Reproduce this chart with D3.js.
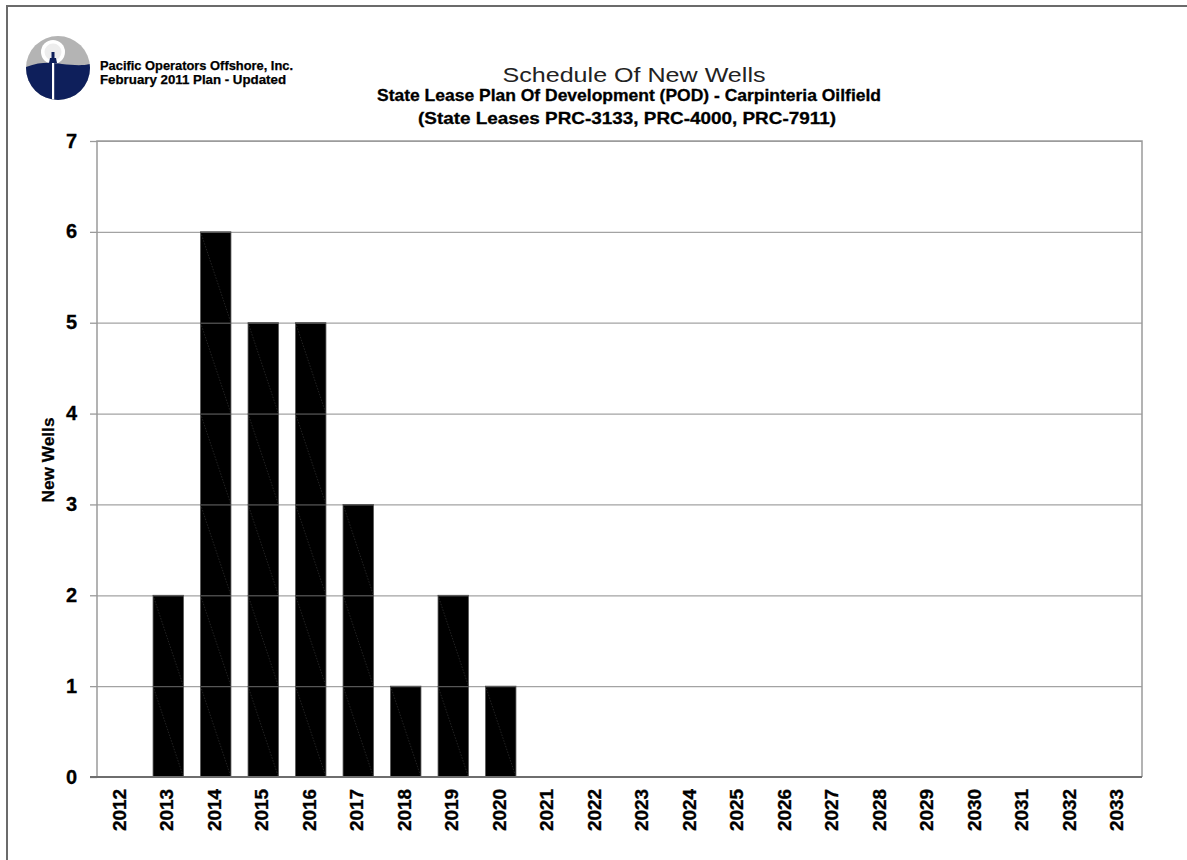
<!DOCTYPE html>
<html>
<head>
<meta charset="utf-8">
<script src="https://cdn.jsdelivr.net/npm/d3@7/dist/d3.min.js"></script>
<style>
  html, body { margin: 0; padding: 0; background: #fff; }
  svg { display: block; font-family: "Liberation Sans", Arial, sans-serif; }
</style>
</head>
<body>
<svg id="chart" width="1187" height="860"></svg>
<script>
// ---- data ----
const years = ["2012","2013","2014","2015","2016","2017","2018","2019","2020","2021","2022",
               "2023","2024","2025","2026","2027","2028","2029","2030","2031","2032","2033"];
const newWells = [0, 2, 6, 5, 5, 3, 1, 2, 1, 0, 0, 0, 0, 0, 0, 0, 0, 0, 0, 0, 0, 0];
const yTicks = [0, 1, 2, 3, 4, 5, 6, 7];
const titleText = "Schedule Of New Wells";
const subtitle1 = "State Lease Plan Of Development (POD) - Carpinteria Oilfield";
const subtitle2 = "(State Leases PRC-3133, PRC-4000, PRC-7911)";
const companyLines = ["Pacific Operators Offshore, Inc.", "February 2011 Plan - Updated"];
const yAxisTitle = "New Wells";

(function () {
const data = years.map((y, i) => ({ year: y, value: newWells[i] }));

const svg = d3.select("#chart");
const pL = 97, pR = 1142, pT = 141, pB = 777;

const x = d3.scaleBand().domain(years).range([pL, pR])
  .paddingInner(0.36).paddingOuter(0.18);
const y = d3.scaleLinear().domain([0, 7]).range([pB, pT]);

// outer frame
svg.append("rect").attr("x", 7).attr("y", 6).attr("width", 1200).attr("height", 900)
  .attr("fill", "none").attr("stroke", "#6b6b6b").attr("stroke-width", 2);

// logo
const logo = svg.append("g");
const cx = 58, cy = 68, r = 32;
logo.append("clipPath").attr("id", "logoClip")
  .append("circle").attr("cx", cx).attr("cy", cy).attr("r", r);
const lg = logo.append("g").attr("clip-path", "url(#logoClip)");
lg.append("rect").attr("x", cx - r).attr("y", cy - r).attr("width", 2 * r).attr("height", 2 * r).attr("fill", "#b4b4b4");
lg.append("circle").attr("cx", 53).attr("cy", 52).attr("r", 12).attr("fill", "#ffffff");
lg.append("circle").attr("cx", 53).attr("cy", 52).attr("r", 8.5).attr("fill", "#ededed");
lg.append("path")
  .attr("d", `M${cx - r},67 C${cx - 16},61 ${cx - 4},63 ${cx + 4},64 C${cx + 14},65 ${cx + 24},66 ${cx + r},64 L${cx + r},${cy + r} L${cx - r},${cy + r} Z`)
  .attr("fill", "#0e1f5b");
lg.append("rect").attr("x", 52).attr("y", 60).attr("width", 2.2).attr("height", 42).attr("fill", "#ffffff");
lg.append("path").attr("d", "M49,63 L57,63 L56,58 L54.5,58 L54.5,52 L51.5,52 L51.5,58 L50,58 Z").attr("fill", "#0e1f5b");

svg.selectAll("text.company").data(companyLines).enter().append("text")
  .attr("class", "company")
  .attr("x", 100).attr("y", (d, i) => 70 + i * 13.5)
  .attr("font-size", 12.5).attr("font-weight", "bold").attr("fill", "#000")
  .attr("stroke", "#000").attr("stroke-width", 0.25)
  .attr("textLength", (d, i) => i === 0 ? 193 : 186)
  .attr("lengthAdjust", "spacingAndGlyphs")
  .text(d => d);

// titles
svg.append("text").attr("x", 634).attr("y", 82).attr("text-anchor", "middle")
  .attr("font-size", 21).attr("fill", "#222").attr("textLength", 263).attr("lengthAdjust", "spacingAndGlyphs")
  .text(titleText);
svg.append("text").attr("x", 629).attr("y", 101).attr("text-anchor", "middle")
  .attr("font-size", 16.5).attr("font-weight", "bold").attr("fill", "#000")
  .attr("stroke", "#000").attr("stroke-width", 0.3)
  .attr("textLength", 504).attr("lengthAdjust", "spacingAndGlyphs")
  .text(subtitle1);
svg.append("text").attr("x", 627).attr("y", 124).attr("text-anchor", "middle")
  .attr("font-size", 16.5).attr("font-weight", "bold").attr("fill", "#000")
  .attr("stroke", "#000").attr("stroke-width", 0.3)
  .attr("textLength", 418).attr("lengthAdjust", "spacingAndGlyphs")
  .text(subtitle2);

// gridlines
svg.append("g").selectAll("line").data(yTicks.filter(t => t > 0)).enter().append("line")
  .attr("x1", pL).attr("x2", pR)
  .attr("y1", d => y(d) + 0.5).attr("y2", d => y(d) + 0.5)
  .attr("stroke", "#a3a3a3").attr("stroke-width", 1.2);

// bars
const bars = svg.append("g");
bars.selectAll("rect").data(data.filter(d => d.value > 0)).enter().append("rect")
  .attr("x", d => x(d.year)).attr("y", d => y(d.value))
  .attr("width", x.bandwidth()).attr("height", d => y(0) - y(d.value))
  .attr("fill", "#000").attr("stroke", "#555").attr("stroke-width", 0.8);

// unit segments inside bars (separator lines and faint diagonals)
const segs = [];
data.forEach(d => { for (let k = 0; k < d.value; k++) segs.push({ year: d.year, lo: k, hi: k + 1 }); });
bars.selectAll("line.sep").data(segs).enter().append("line")
  .attr("class", "sep")
  .attr("x1", s => x(s.year)).attr("x2", s => x(s.year) + x.bandwidth())
  .attr("y1", s => y(s.hi) + 0.5).attr("y2", s => y(s.hi) + 0.5)
  .attr("stroke", "#5a5a5a").attr("stroke-width", 1.2);
bars.selectAll("line.diag").data(segs).enter().append("line")
  .attr("class", "diag")
  .attr("x1", s => x(s.year)).attr("x2", s => x(s.year) + x.bandwidth())
  .attr("y1", s => y(s.hi)).attr("y2", s => y(s.lo))
  .attr("stroke", "#3a3a3a").attr("stroke-width", 0.6).attr("stroke-dasharray", "1.5,1.5");

// plot frame (top, right, left)
svg.append("path")
  .attr("d", `M${pL},${pB} L${pL},${pT} L${pR},${pT} L${pR},${pB}`)
  .attr("fill", "none").attr("stroke", "#9a9a9a").attr("stroke-width", 1.5);

// y axis
const yAxis = svg.append("g").attr("transform", `translate(${pL},0)`)
  .call(d3.axisLeft(y).tickValues(yTicks).tickSize(7).tickPadding(13).tickFormat(d3.format("d")));
yAxis.select(".domain").remove();
yAxis.selectAll(".tick line").attr("stroke", "#9a9a9a").attr("stroke-width", 1.3);
yAxis.selectAll(".tick text").attr("font-size", 20).attr("font-weight", "bold").attr("fill", "#000")
  .attr("stroke", "#000").attr("stroke-width", 0.3)
  .attr("font-family", "Liberation Sans, Arial, sans-serif").attr("dy", "0.3em");

// x axis
const xAxis = svg.append("g").attr("transform", `translate(0,${pB})`)
  .call(d3.axisBottom(x).tickSize(0).tickPadding(0));
xAxis.select(".domain").attr("stroke", "#6e6e6e").attr("stroke-width", 2)
  .attr("d", `M${pL - 7},0H${pR}`);
xAxis.selectAll(".tick text")
  .attr("font-size", 18).attr("font-weight", "bold").attr("fill", "#000")
  .attr("stroke", "#000").attr("stroke-width", 0.35)
  .attr("font-family", "Liberation Sans, Arial, sans-serif")
  .attr("text-anchor", "end").attr("transform", "translate(5,12) rotate(-90)")
  .attr("textLength", 42).attr("lengthAdjust", "spacingAndGlyphs")
  .attr("dy", 0).attr("y", 0).attr("x", 0);

// y axis title
svg.append("text").attr("transform", "translate(54,460) rotate(-90)")
  .attr("text-anchor", "middle").attr("font-size", 16.5).attr("font-weight", "bold").attr("fill", "#000")
  .attr("stroke", "#000").attr("stroke-width", 0.25)
  .attr("textLength", 85).attr("lengthAdjust", "spacingAndGlyphs")
  .text(yAxisTitle);
})();
</script>
</body>
</html>
